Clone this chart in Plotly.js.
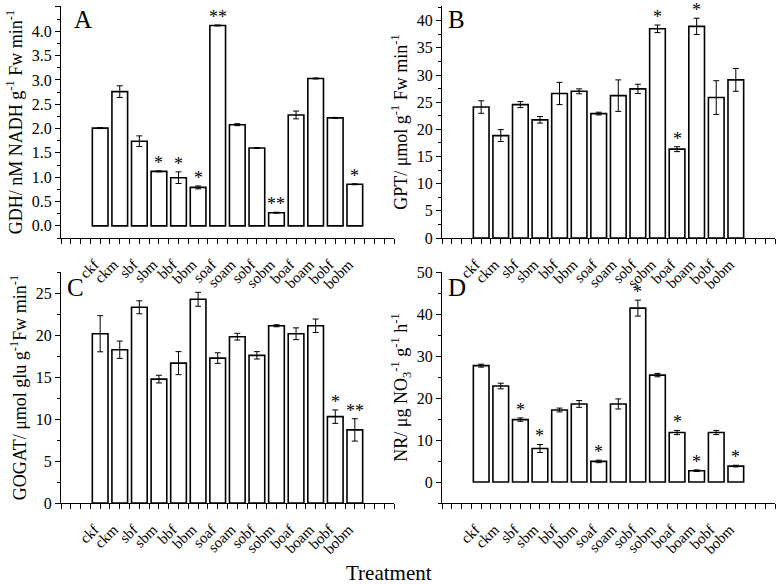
<!DOCTYPE html>
<html><head><meta charset="utf-8">
<script src="https://cdn.plot.ly/plotly-3.0.1.min.js"></script>
<style>html,body{margin:0;padding:0;background:#fff}#plot{width:777px;height:585px}</style>
</head><body><div id="plot"></div>
<script>
const categories = ["ckf","ckm","sbf","sbm","bbf","bbm","soaf","soam","sobf","sobm","boaf","boam","bobf","bobm"];

const gdhValues = [2.01,2.76,1.74,1.12,0.99,0.79,4.12,2.08,1.60,0.27,2.28,3.03,2.22,0.855];
const gdhErrors = [0.01,0.12,0.11,0.01,0.12,0.03,0.01,0.02,0.01,0.01,0.08,0.01,0.01,0.01];
const gdhStars  = ["","","","*","*","*","**","","","**","","","","*"];

const gptValues = [24.1,18.85,24.55,21.75,26.6,27.0,22.9,26.2,27.45,38.5,16.35,38.95,25.85,29.1];
const gptErrors = [1.15,1.1,0.55,0.6,2.05,0.45,0.25,2.9,0.85,0.7,0.45,1.5,3.1,2.1];
const gptStars  = ["","","","","","","","","","*","*","*","",""];

const gogatValues = [20.15,18.25,23.3,14.75,16.65,24.25,17.25,19.8,17.58,21.1,20.15,21.1,10.28,8.7];
const gogatErrors = [2.15,1.03,0.77,0.46,1.37,0.83,0.63,0.4,0.44,0.12,0.7,0.8,0.8,1.33];
const gogatStars  = ["","","","","","","","","","","","","*","**"];

const nrValues = [27.7,22.85,14.86,7.98,17.15,18.58,4.9,18.58,41.4,25.45,11.78,2.69,11.78,3.79];
const nrErrors = [0.35,0.67,0.4,0.95,0.45,0.8,0.3,1.2,1.9,0.4,0.5,0.2,0.5,0.2];
const nrStars  = ["","","*","*","","","*","","*","","*","*","","*"];

const xIdx = categories.map((c,i)=>i);
const FONT = "Liberation Serif, Times New Roman, serif";

function barTrace(vals, errs, xa, ya){
  return {type:"bar", x:xIdx, y:vals, xaxis:xa, yaxis:ya, width:0.8,
    marker:{color:"#ffffff", line:{color:"#000", width:1.6}},
    error_y:{type:"data", array:errs, visible:true, color:"#000", thickness:1, width:3},
    showlegend:false, hoverinfo:"skip"};
}
const data = [
  barTrace(gdhValues,gdhErrors,"x","y"),
  barTrace(gptValues,gptErrors,"x2","y2"),
  barTrace(gogatValues,gogatErrors,"x3","y3"),
  barTrace(nrValues,nrErrors,"x4","y4")
];

function xAxis(dom, anchor){
  return {domain:dom, anchor:anchor, range:[-2,15], showgrid:false, zeroline:false,
    showline:true, linecolor:"#000", linewidth:1, ticks:"outside", ticklen:5, tickcolor:"#000",
    tickvals:xIdx, ticktext:categories, tickangle:-45, ticklabelstandoff:6, ticklabelshift:-6,
    tickfont:{family:FONT, size:15, color:"#000"},
    minor:{dtick:0.5, tick0:0, ticks:"outside", ticklen:5, tickcolor:"#000", showgrid:false}};
}
function yAxis(dom, anchor, range, dtick, minorD, title, fmt){
  return {domain:dom, anchor:anchor, range:range, showgrid:false, zeroline:false,
    showline:true, linecolor:"#000", linewidth:1, ticks:"outside", ticklen:5, tickcolor:"#000",
    dtick:dtick, tick0:0, tickformat:fmt,
    tickfont:{family:FONT, size:16, color:"#000"},
    minor:{dtick:minorD, ticks:"outside", ticklen:3, tickcolor:"#000", showgrid:false},
    title:{text:title, font:{family:FONT, size:18, color:"#000"}, standoff:4}};
}
const W=777, H=585;
const xL=[61/W,394/W], xR=[442/W,775/W];
const yT=[1-238/H,1-6/H], yB=[1-503/H,1-272/H];

const layout = {
  width:W, height:H, margin:{l:0,r:0,t:0,b:0},
  paper_bgcolor:"#fff", plot_bgcolor:"rgba(0,0,0,0)",
  font:{family:FONT, color:"#000"},
  bargap:0.2,
  xaxis:xAxis(xL,"y"), xaxis2:xAxis(xR,"y2"), xaxis3:xAxis(xL,"y3"), xaxis4:xAxis(xR,"y4"),
  yaxis:yAxis(yT,"x",[-0.25,4.52],0.5,0.25,"GDH/ nM NADH g<sup>-1</sup> Fw min<sup>-1</sup>",".1f"),
  yaxis2:yAxis(yT,"x2",[0,42.7],5,2.5,"GPT/ μmol g<sup>-1</sup> Fw min<sup>-1</sup>",""),
  yaxis3:yAxis(yB,"x3",[0,27.5],5,2.5,"GOGAT/ μmol glu g<sup>-1</sup>Fw min<sup>-1</sup>",""),
  yaxis4:yAxis(yB,"x4",[-5,50],10,5,"NR/ μg NO<sub>3</sub><sup>-1</sup> g<sup>-1</sup> h<sup>-1</sup>",""),
  annotations:[]
};

function addStars(vals, errs, stars, xr, yr){
  stars.forEach((s,i)=>{
    if(!s) return;
    layout.annotations.push({x:i, y:vals[i]+errs[i], xref:xr, yref:yr, text:s, showarrow:false,
      yanchor:"bottom", yshift:-4, font:{family:FONT, size:18, color:"#000"}});
  });
}
addStars(gdhValues,gdhErrors,gdhStars,"x","y");
addStars(gptValues,gptErrors,gptStars,"x2","y2");
addStars(gogatValues,gogatErrors,gogatStars,"x3","y3");
addStars(nrValues,nrErrors,nrStars,"x4","y4");

const letters = [["A",72/W,1-20/H],["B",446/W,1-20/H],["C",65/W,1-287/H],["D",446/W,1-287/H]];
letters.forEach(l=>layout.annotations.push({x:l[1], y:l[2], xref:"paper", yref:"paper", text:l[0],
  showarrow:false, xanchor:"left", yanchor:"middle", font:{family:FONT, size:25, color:"#000"}}));

layout.annotations.push({x:0.5, y:1-573/H, xref:"paper", yref:"paper", text:"Treatment",
  showarrow:false, xanchor:"center", yanchor:"middle", font:{family:FONT, size:21, color:"#000"}});

Plotly.newPlot("plot", data, layout, {displayModeBar:false, staticPlot:true});
</script></body></html>
